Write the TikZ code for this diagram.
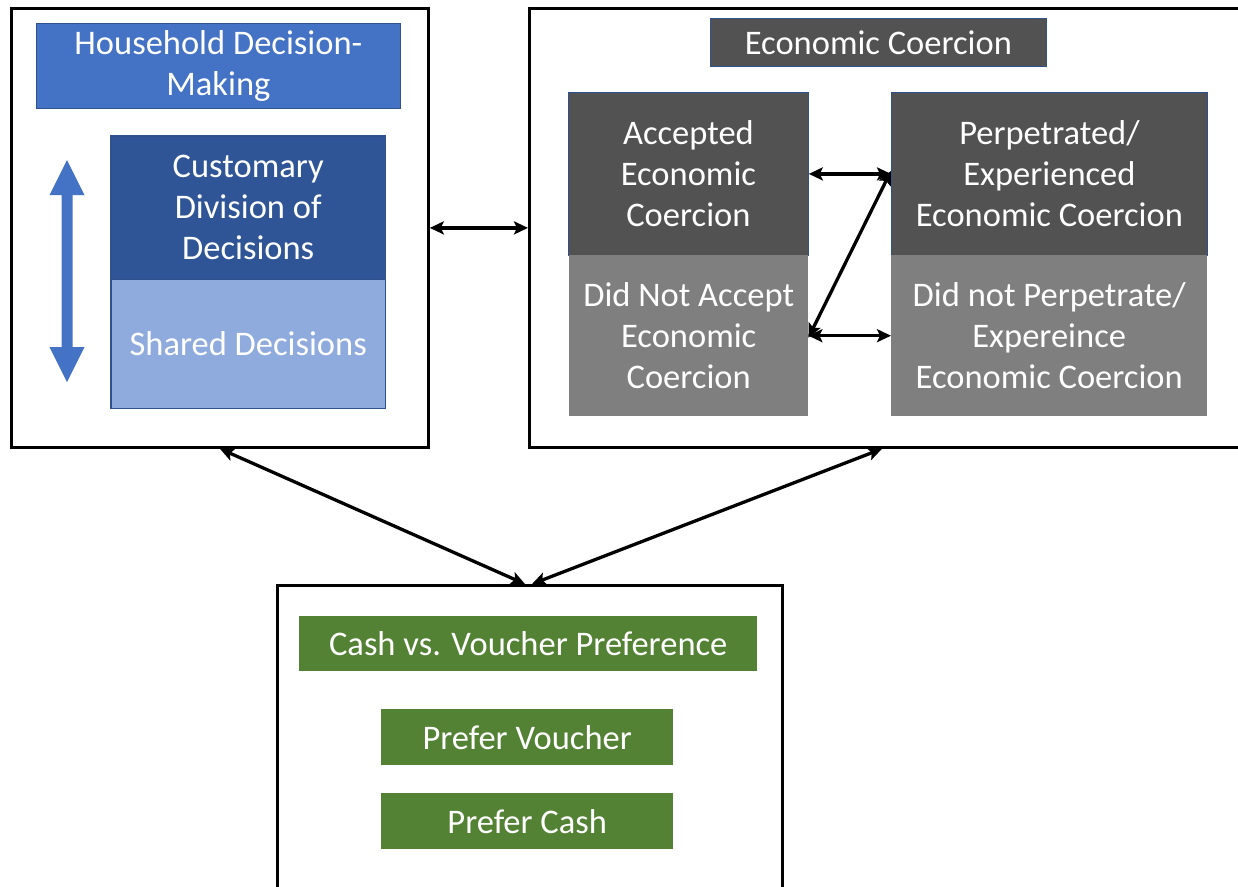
\documentclass[tikz,border=0pt]{standalone}
\usepackage{fontspec}
\setmainfont{Carlito}
\usetikzlibrary{arrows.meta,calc}
\definecolor{hhblue}{HTML}{4472C4}
\definecolor{cusblue}{HTML}{2F5597}
\definecolor{shblue}{HTML}{8FAADC}
\definecolor{edgeblue}{HTML}{2F528F}
\definecolor{dkgray}{HTML}{525252}
\definecolor{mdgray}{HTML}{7F7F7F}
\definecolor{grn}{HTML}{548235}
\begin{document}
\begin{tikzpicture}[x=1pt,y=-1pt,
  frame/.style={draw=black,line width=2.8pt,inner sep=0pt,anchor=north west},
  box/.style={inner sep=0pt,anchor=north west,text=white,align=center,
    font=\fontsize{34.5}{41}\selectfont},
  link/.style={line width=3.3pt,
    {Stealth[length=14pt,width=13pt,inset=3pt]}-{Stealth[length=14pt,width=13pt,inset=3pt]}}
]
\useasboundingbox (0,0) rectangle (1238,886);
\clip (0,0) rectangle (1238,886);
\fill[white] (0,0) rectangle (1238,886);

% frames
\node[frame,minimum width=417pt,minimum height=439pt] (lf) at (10,7) {};
\node[frame,minimum width=740pt,minimum height=439pt] (rf) at (528,7) {};
\node[frame,minimum width=505pt,minimum height=340pt] (bf) at (276,584) {};

% left frame content
\node[box,fill=hhblue,draw=edgeblue,line width=0.8pt,minimum width=364pt,minimum height=85pt] (hh) at (36,23) {Household Decision-\\Making};
\node[box,fill=cusblue,minimum width=274pt,minimum height=143pt] (cus) at (111,136) {Customary\\Division of\\Decisions};
\node[box,fill=shblue,minimum width=274pt,minimum height=129pt] (sh) at (111,279) {Shared Decisions};
\draw[edgeblue,line width=1.2pt] (cus.north west) rectangle (sh.south east);
\draw[edgeblue,line width=1pt] (sh.north west) -- (sh.north east);
\fill[hhblue] (67,160) -- (84.5,195) -- (72.5,195) -- (72.5,347) -- (84.5,347) -- (67,382)
  -- (49.5,347) -- (61.5,347) -- (61.5,195) -- (49.5,195) -- cycle;

% right frame content
\node[box,fill=dkgray,draw=edgeblue,line width=0.8pt,minimum width=336pt,minimum height=48pt] (ec) at (710,18) {Economic Coercion};
\node[box,fill=dkgray,draw=edgeblue,line width=0.8pt,minimum width=240pt,minimum height=163pt] (acc) at (568,92) {Accepted\\Economic\\Coercion};
\node[box,fill=mdgray,minimum width=239pt,minimum height=161pt] (dna) at (569,255) {Did Not Accept\\Economic\\Coercion};
\node[box,fill=dkgray,draw=edgeblue,line width=0.8pt,minimum width=316pt,minimum height=163pt] (per) at (891,92) {Perpetrated/\\Experienced\\Economic Coercion};
\node[box,fill=mdgray,minimum width=316pt,minimum height=161pt] (dnp) at (891,255) {Did not Perpetrate/\\Expereince\\Economic Coercion};

\draw[link] (acc.east) -- (per.west);
\draw[link] (dna.east) -- (dnp.west);
\coordinate (dtop) at ([yshift=3pt]per.west);
\coordinate (dbot) at ([yshift=-2pt]dna.east);
\draw[link] (dbot) -- (dtop);

% bottom frame content
\node[box,fill=grn,minimum width=458pt,minimum height=55pt] (cvp) at (299,616) {Cash vs. Voucher Preference};
\node[box,fill=grn,minimum width=292pt,minimum height=56pt] (pv) at (381,709) {Prefer Voucher};
\node[box,fill=grn,minimum width=292pt,minimum height=56pt] (pc) at (381,793) {Prefer Cash};

% connectors between frames
\draw[link] (lf.east) -- (rf.west);
\coordinate (lfb) at ([xshift=210pt]lf.south west);
\coordinate (rfb) at ([xshift=354pt]rf.south west);
\coordinate (bft1) at ([xshift=249pt]bf.north west);
\coordinate (bft2) at ([xshift=256pt]bf.north west);
\draw[link] (lfb) -- (bft1);
\draw[link] (rfb) -- (bft2);
\end{tikzpicture}
\end{document}
